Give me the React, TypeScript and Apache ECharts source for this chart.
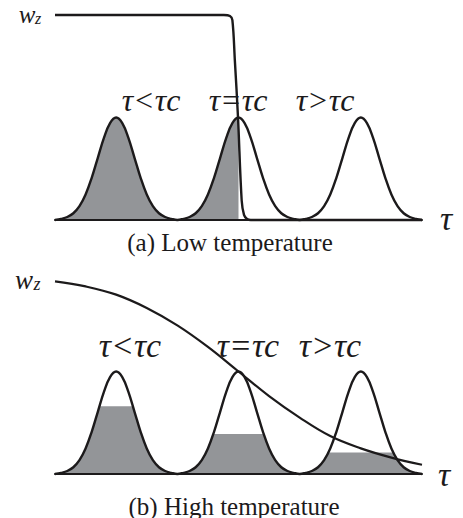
import React, { useEffect, useRef } from "react";
import * as echarts from "echarts";

// τ domain of both panels
const tauMin = 0.5;
const tauMax = 3.5;
// centres of the three distributions
const peakCenters = [1, 2, 3];
// one distribution profile (offset from centre, height)
const peakOffsets = [-0.5, -0.45, -0.4, -0.35, -0.3, -0.25, -0.2, -0.15, -0.1, -0.05, 0, 0.05, 0.1, 0.15, 0.2, 0.25, 0.3, 0.35, 0.4, 0.45, 0.5];
const peakHeights = [0, 0.011, 0.029, 0.066, 0.135, 0.249, 0.411, 0.607, 0.801, 0.946, 1, 0.946, 0.801, 0.607, 0.411, 0.249, 0.135, 0.066, 0.029, 0.011, 0];

// (a) low temperature: w_z step
const lowWzTau = [0.5, 1.88, 1.93, 1.95, 1.97, 1.996, 2.026, 2.045, 2.07, 2.1, 3.5];
const lowWz = [2.0, 2.0, 1.99, 1.95, 1.56, 1.0, 0.19, 0.05, 0.01, 0, 0];
const lowCutoffTau = 2.0;

// (b) high temperature: w_z smooth decay
const highWzTau = [0.5, 0.75, 1.0, 1.25, 1.5, 1.75, 2.0, 2.25, 2.5, 2.75, 3.0, 3.25, 3.5];
const highWz = [1.88, 1.83, 1.75, 1.62, 1.45, 1.24, 1.0, 0.76, 0.55, 0.37, 0.25, 0.16, 0.09];
const highFillLevels = [0.66, 0.39, 0.21];

const peakLabels = ["τ<τc", "τ=τc", "τ>τc"];
const captions = ["(a) Low temperature", "(b) High temperature"];

const GRAY = "#939598";
const INK = "#1c1a1b";

function peakPoints(c: number): number[][] {
  return peakOffsets.map((o, i) => [c + o, peakHeights[i]]);
}

function allPeaks(): number[][] {
  const out: number[][] = [];
  peakCenters.forEach((c, k) => {
    const pts = peakPoints(c);
    pts.forEach((p, i) => {
      if (k > 0 && i === 0) return;
      out.push(p);
    });
  });
  return out;
}

export default function App() {
  const ref = useRef<HTMLDivElement>(null);
  useEffect(() => {
    document.body.style.margin = "0";
    const chart = echarts.init(ref.current!, null, { renderer: "svg" });
    const curve = allPeaks();
    const lowFill = curve.filter((p) => p[0] <= lowCutoffTau);

    const axisX = (gi: number) => ({
      gridIndex: gi,
      type: "value",
      min: tauMin,
      max: tauMax,
      z: 10,
      axisLine: { show: true, onZero: false, lineStyle: { color: INK, width: 2.2 } },
      axisTick: { show: false },
      axisLabel: { show: false },
      splitLine: { show: false },
    });
    const axisY = (gi: number) => ({
      gridIndex: gi,
      type: "value",
      min: 0,
      max: 2,
      show: false,
      splitLine: { show: false },
    });

    const series: any[] = [];
    // (a) fill
    series.push({
      type: "line", xAxisIndex: 0, yAxisIndex: 0, data: lowFill, smooth: 0.4, symbol: "none",
      lineStyle: { width: 0 }, areaStyle: { color: GRAY, opacity: 1 }, clip: false,
    });
    series.push({
      type: "line", xAxisIndex: 0, yAxisIndex: 0, data: curve, smooth: 0.4, symbol: "none",
      lineStyle: { color: INK, width: 2.4 }, clip: false,
    });
    series.push({
      type: "line", xAxisIndex: 0, yAxisIndex: 0, data: lowWzTau.map((t, i) => [t, lowWz[i]]),
      smooth: 0.35, symbol: "none", lineStyle: { color: INK, width: 2.4 }, clip: false,
    });
    // (b) fill
    series.push({
      type: "line", xAxisIndex: 1, yAxisIndex: 1, data: curve, smooth: 0.4, symbol: "none",
      lineStyle: { width: 0 }, areaStyle: { color: GRAY, opacity: 1 }, clip: false,
    });
    peakCenters.forEach((c, k) => {
      series.push({
        type: "line", xAxisIndex: 1, yAxisIndex: 1, data: peakPoints(c), smooth: 0.4, symbol: "none",
        lineStyle: { width: 0 }, areaStyle: { color: "#ffffff", opacity: 1, origin: highFillLevels[k] },
        clip: false,
      });
    });
    series.push({
      type: "line", xAxisIndex: 1, yAxisIndex: 1, data: curve, smooth: 0.4, symbol: "none",
      lineStyle: { color: INK, width: 2.4 }, clip: false,
    });
    series.push({
      type: "line", xAxisIndex: 1, yAxisIndex: 1, data: highWzTau.map((t, i) => [t, highWz[i]]),
      smooth: 0.4, symbol: "none", lineStyle: { color: INK, width: 2.2 }, clip: false,
    });

    const serif = "'Liberation Serif', 'Times New Roman', serif";
    const txt = (x: number, y: number, text: string, size: number, italic: boolean) => ({
      type: "text",
      x,
      y,
      style: {
        text,
        fill: INK,
        fontSize: size,
        fontFamily: serif,
        fontStyle: italic ? "italic" : "normal",
        align: "center",
        verticalAlign: "middle",
        textAlign: "center",
        textVerticalAlign: "middle",
      },
    });
    const topLabelX = [151, 238, 325];
    const botLabelX = [130, 248, 330];
    const graphics: any[] = [
      txt(27, 14, "w", 25, true),
      txt(38, 18, "z", 16, true),
      txt(24, 280, "w", 27, true),
      txt(37, 284, "z", 18, true),
      txt(446, 218, "τ", 34, true),
      txt(444, 474, "τ", 34, true),
      txt(230, 242, captions[0], 25, false),
      txt(234, 506, captions[1], 25, false),
      ...peakLabels.map((l, i) => txt(topLabelX[i], 100, l, 32, true)),
      ...peakLabels.map((l, i) => txt(botLabelX[i], 345, l, 34, true)),
    ];

    chart.setOption({
      animation: false,
      backgroundColor: "#ffffff",
      grid: [
        { left: 55, top: 15, width: 367, height: 205 },
        { left: 55, top: 269, width: 367, height: 205 },
      ],
      xAxis: [axisX(0), axisX(1)],
      yAxis: [axisY(0), axisY(1)],
      series,
      graphic: graphics,
    });
    return () => chart.dispose();
  }, []);
  return <div ref={ref} style={{ width: 463, height: 518 }} />;
}
